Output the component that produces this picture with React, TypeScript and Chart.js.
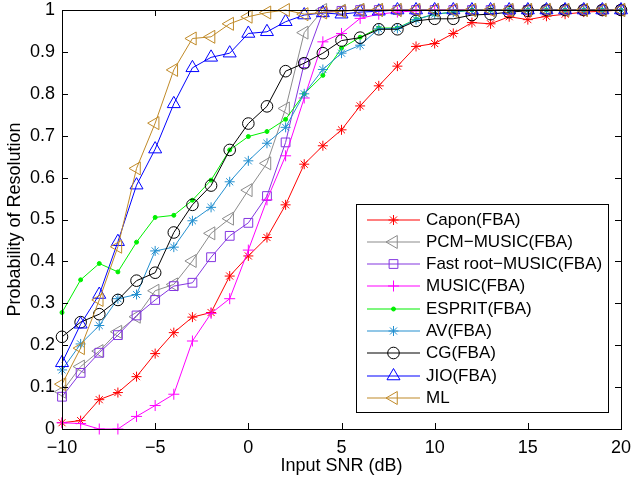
import { useEffect, useRef } from 'react';
import { Chart, registerables } from 'chart.js';

Chart.register(...registerables);

// Input SNR grid (dB)
const snr = [
  -10, -9, -8, -7, -6, -5, -4, -3, -2, -1, 0, 1, 2, 3, 4, 5, 6, 7, 8, 9, 10,
  11, 12, 13, 14, 15, 16, 17, 18, 19, 20,
];

const seriesNames = [
  'Capon(FBA)',
  'PCM\u2212MUSIC(FBA)',
  'Fast root\u2212MUSIC(FBA)',
  'MUSIC(FBA)',
  'ESPRIT(FBA)',
  'AV(FBA)',
  'CG(FBA)',
  'JIO(FBA)',
  'ML',
];

const capon = [
  0.015, 0.02, 0.07, 0.087, 0.125, 0.18, 0.23, 0.267, 0.278, 0.365, 0.413,
  0.457, 0.535, 0.632, 0.676, 0.714, 0.771, 0.819, 0.866, 0.913, 0.92, 0.944,
  0.97, 0.967, 0.984, 0.977, 0.985, 0.99, 0.995, 0.997, 1.0,
];
const pcmMusic = [
  0.089, 0.149, 0.186, 0.232, 0.268, 0.33, 0.345, 0.401, 0.467, 0.502, 0.57,
  0.634, 0.765, 0.946, 1.0, 0.998, 1, 1, 1, 1, 1, 1, 1, 1, 1, 1, 1, 1, 1, 1, 1,
];
const fastRootMusic = [
  0.077, 0.134, 0.182, 0.224, 0.271, 0.308, 0.341, 0.349, 0.41, 0.461, 0.492,
  0.556, 0.684, 0.873, 0.995, 0.998, 1, 1, 1, 1, 1, 1, 1, 1, 1, 1, 1, 1, 1, 1, 1,
];
const music = [
  0.015, 0.013, 0.0, 0.0, 0.03, 0.056, 0.083, 0.21, 0.276, 0.311, 0.427, 0.547,
  0.652, 0.79, 0.924, 0.944, 0.98, 0.99, 0.995, 0.998, 1, 1, 1, 1, 1, 1, 1, 1,
  1, 1, 1,
];
const esprit = [
  0.278, 0.356, 0.395, 0.375, 0.446, 0.505, 0.51, 0.546, 0.594, 0.666, 0.698,
  0.71, 0.739, 0.8, 0.844, 0.909, 0.935, 0.957, 0.957, 0.978, 0.99, 0.995, 1,
  1, 1, 1, 1, 1, 1, 1, 1,
];
const av = [
  0.141, 0.203, 0.247, 0.311, 0.321, 0.425, 0.434, 0.497, 0.529, 0.59, 0.64,
  0.682, 0.72, 0.8, 0.858, 0.897, 0.916, 0.955, 0.956, 0.977, 0.99, 0.995, 1,
  1, 1, 1, 1, 1, 1, 1, 1,
];
const cg = [
  0.22, 0.255, 0.274, 0.308, 0.354, 0.373, 0.469, 0.535, 0.581, 0.666, 0.729,
  0.77, 0.854, 0.873, 0.897, 0.927, 0.934, 0.954, 0.954, 0.974, 0.979, 0.979,
  0.988, 0.99, 0.995, 0.998, 1, 1, 1, 1, 1,
];
const jio = [
  0.158, 0.25, 0.321, 0.447, 0.582, 0.668, 0.776, 0.862, 0.887, 0.897, 0.944,
  0.948, 0.972, 0.988, 0.993, 0.99, 0.995, 0.997, 1, 1, 1, 1, 1, 1, 1, 1, 1, 1,
  1, 1, 1,
];
const ml = [
  0.107, 0.193, 0.308, 0.435, 0.622, 0.73, 0.857, 0.932, 0.936, 0.967, 0.984,
  0.994, 1.0, 0.99, 0.994, 0.997, 1, 1, 1, 1, 1, 1, 1, 1, 1, 1, 1, 1, 1, 1, 1,
];

const seriesValues = [capon, pcmMusic, fastRootMusic, music, esprit, av, cg, jio, ml];

const xTicks = [-10, -5, 0, 5, 10, 15, 20];
const yTicks = [0, 0.1, 0.2, 0.3, 0.4, 0.5, 0.6, 0.7, 0.8, 0.9, 1];

type MarkStyle = {
  color: string;
  mark: string;
  radius: number;
  rotation: number;
  filled: boolean;
};

const styles: MarkStyle[] = [
  { color: '#ff0000', mark: 'star', radius: 5, rotation: 0, filled: false },
  { color: '#8c8c8c', mark: 'triangle', radius: 7.5, rotation: 270, filled: false },
  { color: '#8436e0', mark: 'rect', radius: 6.2, rotation: 0, filled: false },
  { color: '#ff00ff', mark: 'cross', radius: 5.5, rotation: 0, filled: false },
  { color: '#00f000', mark: 'circle', radius: 2, rotation: 0, filled: true },
  { color: '#2490d0', mark: 'star', radius: 5, rotation: 0, filled: false },
  { color: '#000000', mark: 'circle', radius: 5.8, rotation: 0, filled: false },
  { color: '#0000ff', mark: 'triangle', radius: 7.5, rotation: 0, filled: false },
  { color: '#c08a28', mark: 'triangle', radius: 7.5, rotation: 270, filled: false },
];

const FONT = '"Liberation Sans", Arial, Helvetica, sans-serif';

function traceMark(
  ctx: CanvasRenderingContext2D,
  mark: string,
  x: number,
  y: number,
  r: number,
  rotationDeg: number
) {
  let rad = (rotationDeg * Math.PI) / 180;
  ctx.beginPath();
  if (mark === 'circle') {
    ctx.arc(x, y, r, 0, Math.PI * 2);
    ctx.closePath();
  } else if (mark === 'triangle') {
    ctx.moveTo(x + Math.sin(rad) * r, y - Math.cos(rad) * r);
    rad += (2 * Math.PI) / 3;
    ctx.lineTo(x + Math.sin(rad) * r, y - Math.cos(rad) * r);
    rad += (2 * Math.PI) / 3;
    ctx.lineTo(x + Math.sin(rad) * r, y - Math.cos(rad) * r);
    ctx.closePath();
  } else if (mark === 'rect') {
    const s = Math.SQRT1_2 * r;
    ctx.rect(x - s, y - s, 2 * s, 2 * s);
  } else if (mark === 'cross' || mark === 'star') {
    ctx.moveTo(x, y - r);
    ctx.lineTo(x, y + r);
    ctx.moveTo(x - r, y);
    ctx.lineTo(x + r, y);
    if (mark === 'star') {
      const d = Math.cos(Math.PI / 4) * r;
      ctx.moveTo(x - d, y - d);
      ctx.lineTo(x + d, y + d);
      ctx.moveTo(x - d, y + d);
      ctx.lineTo(x + d, y - d);
    }
  }
}

// Boxed axes with inward tick marks on all four sides
const axesFrame = {
  id: 'axesFrame',
  afterDatasetsDraw(chart: any) {
    const { ctx, chartArea: a, scales } = chart;
    const len = 6;
    ctx.save();
    ctx.strokeStyle = '#000';
    ctx.lineWidth = 1;
    ctx.beginPath();
    for (const v of xTicks) {
      const px = Math.round(scales.x.getPixelForValue(v)) + 0.5;
      ctx.moveTo(px, a.bottom);
      ctx.lineTo(px, a.bottom - len);
      ctx.moveTo(px, a.top);
      ctx.lineTo(px, a.top + len);
    }
    for (const v of yTicks) {
      const py = Math.round(scales.y.getPixelForValue(v)) + 0.5;
      ctx.moveTo(a.left, py);
      ctx.lineTo(a.left + len, py);
      ctx.moveTo(a.right, py);
      ctx.lineTo(a.right - len, py);
    }
    ctx.stroke();
    ctx.strokeRect(
      Math.round(a.left) + 0.5,
      Math.round(a.top) + 0.5,
      Math.round(a.right - a.left),
      Math.round(a.bottom - a.top)
    );
    ctx.restore();
  },
};

// Legend box in the lower-right corner of the axes
const legendBox = {
  id: 'legendBox',
  afterDraw(chart: any) {
    const { ctx, chartArea: a } = chart;
    const w = 252;
    const h = 208;
    const x0 = Math.round(a.right - 13 - w);
    const y0 = Math.round(a.bottom - 17 - h);
    const rowH = 22.3;
    ctx.save();
    ctx.fillStyle = '#fff';
    ctx.fillRect(x0, y0, w, h);
    ctx.strokeStyle = '#000';
    ctx.lineWidth = 1;
    ctx.strokeRect(x0 + 0.5, y0 + 0.5, w, h);
    ctx.font = `17px ${FONT}`;
    ctx.textBaseline = 'middle';
    ctx.textAlign = 'left';
    seriesNames.forEach((name, i) => {
      const st = styles[i];
      const cy = Math.round(y0 + 14.5 + i * rowH) + 1;
      ctx.strokeStyle = st.color;
      ctx.fillStyle = st.color;
      ctx.lineWidth = 1.2;
      // line sample
      ctx.beginPath();
      ctx.moveTo(x0 + 11, cy);
      ctx.lineTo(x0 + 64, cy);
      ctx.stroke();
      // marker sample
      ctx.lineWidth = 1;
      traceMark(ctx, st.mark, x0 + 37.5, cy, st.radius, st.rotation);
      if (st.filled) ctx.fill();
      ctx.stroke();
      ctx.fillStyle = '#000';
      ctx.fillText(name, x0 + 70, cy);
    });
    ctx.restore();
  },
};

export default function App() {
  const canvasRef = useRef<HTMLCanvasElement>(null);

  useEffect(() => {
    const canvas = canvasRef.current;
    if (!canvas) return;

    const datasets = seriesNames.map((name, i) => {
      const st = styles[i];
      return {
        label: name,
        data: snr.map((x, k) => ({ x, y: seriesValues[i][k] })),
        borderColor: st.color,
        backgroundColor: st.color,
        borderWidth: 1,
        pointStyle: st.mark,
        pointRadius: st.radius,
        pointHoverRadius: st.radius,
        pointRotation: st.rotation,
        pointBorderColor: st.color,
        pointBackgroundColor: st.filled ? st.color : 'rgba(0,0,0,0)',
        pointBorderWidth: 1,
        tension: 0,
        fill: false,
        clip: false as const,
        order: seriesNames.length - i,
      };
    });

    const chart = new Chart(canvas, {
      type: 'line',
      data: { datasets },
      options: {
        animation: false,
        responsive: true,
        maintainAspectRatio: false,
        events: [],
        layout: { padding: { top: 10, right: 10, left: 0, bottom: 0 } },
        plugins: {
          legend: { display: false },
          tooltip: { enabled: false },
        },
        scales: {
          x: {
            type: 'linear',
            min: -10,
            max: 20,
            afterBuildTicks: (s: any) => {
              s.ticks = xTicks.map((v) => ({ value: v }));
            },
            afterFit: (s: any) => {
              s.height = 49;
              s.paddingLeft = 0;
              s.paddingRight = 0;
            },
            grid: { display: false, drawTicks: false },
            border: { display: false },
            ticks: {
              color: '#000',
              padding: 8,
              maxRotation: 0,
              font: { family: FONT, size: 18 },
              callback: (v: any) =>
                Number(v) < 0 ? '\u2212' + Math.abs(Number(v)) : String(v),
            },
            title: {
              display: true,
              text: 'Input SNR (dB)',
              color: '#000',
              font: { family: FONT, size: 18 },
              padding: { top: 0, bottom: 1 },
            },
          },
          y: {
            type: 'linear',
            min: 0,
            max: 1,
            afterBuildTicks: (s: any) => {
              s.ticks = yTicks.map((v) => ({ value: v }));
            },
            afterFit: (s: any) => {
              s.width = 62;
              s.paddingTop = 0;
              s.paddingBottom = 0;
            },
            grid: { display: false, drawTicks: false },
            border: { display: false },
            ticks: {
              color: '#000',
              padding: 7,
              font: { family: FONT, size: 18 },
              callback: (v: any) => {
                const n = Number(v);
                if (Math.abs(n) < 1e-9) return '0';
                if (Math.abs(n - 1) < 1e-9) return '1';
                return n.toFixed(1);
              },
            },
            title: {
              display: true,
              text: 'Probability of Resolution',
              color: '#000',
              font: { family: FONT, size: 18 },
              padding: { top: 4, bottom: 0 },
            },
          },
        },
      },
      plugins: [axesFrame, legendBox],
    });

    return () => chart.destroy();
  }, []);

  return (
    <div
      style={{
        position: 'absolute',
        left: 0,
        top: 0,
        width: 631,
        height: 478,
        background: '#fff',
      }}
    >
      <canvas ref={canvasRef} />
    </div>
  );
}
